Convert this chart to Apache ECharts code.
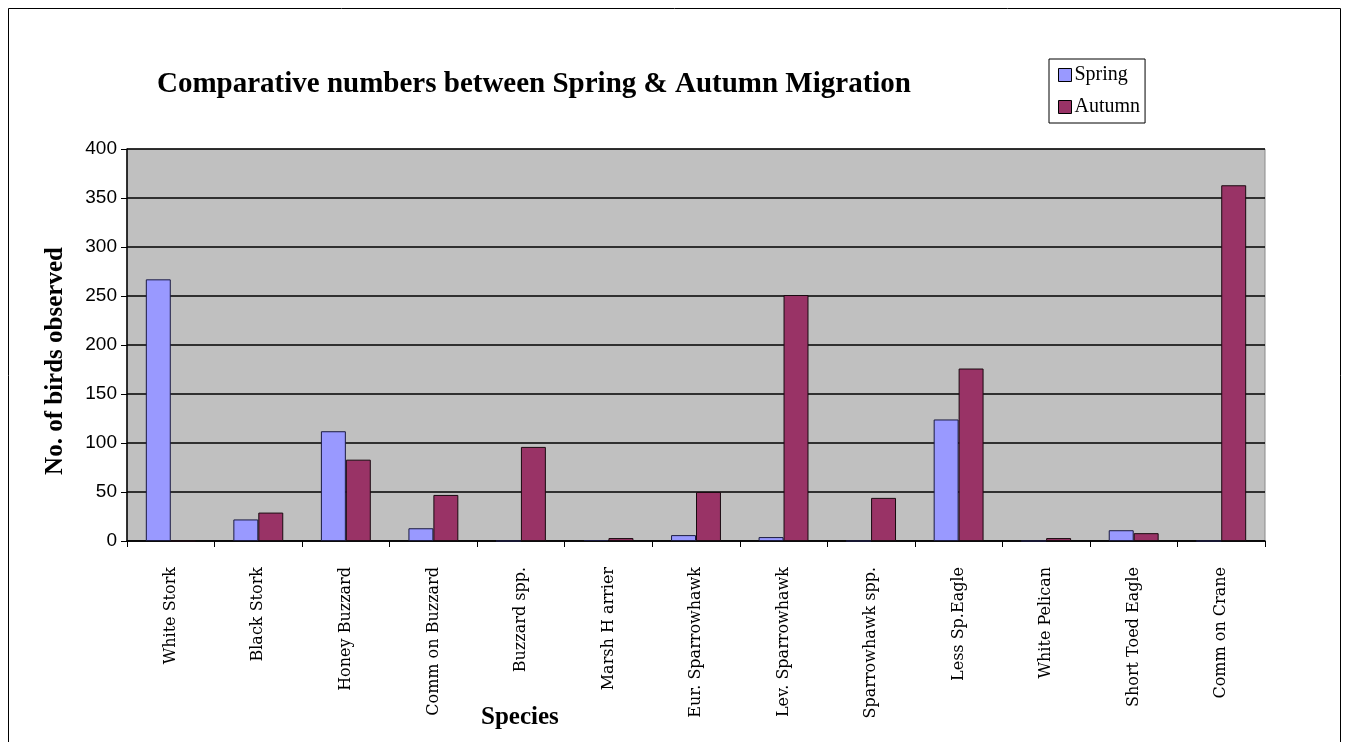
<!doctype html>
<html>
<head>
<meta charset="utf-8">
<title>Spring & Autumn Migration</title>
<script src="https://cdn.jsdelivr.net/npm/echarts@6/dist/echarts.min.js"></script>
<style type="text/css">
	html, body {margin:0; padding:0; background:#fff;}
	#chart {width:1348px; height:742px;}
</style>
</head>
<body>
<div id="chart"></div>
<script type="text/javascript">
// species on the x axis
var species = ['White Stork', 'Black Stork', 'Honey Buzzard', 'Comm on Buzzard', 'Buzzard spp.',
	'Marsh H arrier', 'Eur. Sparrowhawk', 'Lev. Sparrowhawk', 'Sparrowhawk spp.', 'Less Sp.Eagle',
	'White Pelican', 'Short Toed Eagle', 'Comm on Crane'];
// counts
var spring = [267, 22, 112, 13, 0, 1, 6, 4, 0, 124, 0, 11, 0];
var autumn = [0, 29, 83, 47, 96, 3, 50, 251, 44, 176, 3, 8, 363];
var yTicks = [0, 400, 50];   // min, max, step

var chart = echarts.init(document.getElementById('chart'));
var serif = '"Liberation Serif", "DejaVu Serif", serif';

var option = {
	animation: false,
	backgroundColor: '#fff',
	title: [
		{   // chart title
			text: 'Comparative numbers between Spring & Autumn Migration',
			left: 152, top: 65,
			textStyle: {fontFamily: serif, fontWeight: 'bold', fontSize: 29, color: '#000'}
		},
		{   // x axis name, sits left of centre in the original
			text: 'Species',
			left: 476, top: 700,
			textStyle: {fontFamily: serif, fontWeight: 'bold', fontSize: 25, color: '#000'}
		}
	],
	legend: {
		orient: 'vertical',
		left: 1049, top: 59,
		padding: [6, 5, 6, 9],
		itemGap: 12,
		itemWidth: 13, itemHeight: 13,
		backgroundColor: '#fff',
		borderColor: '#000',
		borderWidth: 1,
		textStyle: {fontFamily: serif, fontSize: 20, color: '#000', padding: [0, 0, 0, -2]},
		itemStyle: {borderColor: '#000', borderWidth: 1},
		data: [{name: 'Spring', icon: 'rect'}, {name: 'Autumn', icon: 'rect'}]
	},
	grid: {
		left: 127, right: 83, top: 149, bottom: 201,
		show: true,
		backgroundColor: '#c0c0c0',
		borderColor: '#8a8a8a',
		borderWidth: 1
	},
	xAxis: {
		type: 'category',
		data: species,
		axisLine: {lineStyle: {color: '#000', width: 1.5}},
		axisTick: {show: true, length: 6, lineStyle: {color: '#000'}},
		axisLabel: {
			interval: 0,
			rotate: 90,
			margin: 26,
			fontFamily: '"DejaVu Serif", serif',
			fontSize: 16,
			color: '#000'
		},
		splitLine: {show: false}
	},
	yAxis: {
		type: 'value',
		min: yTicks[0], max: yTicks[1], interval: yTicks[2],
		axisLine: {show: true, lineStyle: {color: '#000', width: 1.5}},
		axisTick: {show: true, length: 6, lineStyle: {color: '#000'}},
		axisLabel: {fontFamily: '"Liberation Sans", Arial, sans-serif', fontSize: 19, color: '#000', margin: 10},
		splitLine: {lineStyle: {color: '#000', width: 1.5}}
	},
	graphic: [
		{   // outer frame
			type: 'rect',
			shape: {x: 8.5, y: 8.5, width: 1332, height: 760},
			style: {fill: 'none', stroke: '#000', lineWidth: 1},
			silent: true
		},
		{   // y axis name
			type: 'text',
			x: 56, y: 361,
			rotation: Math.PI / 2,
			style: {
				text: 'No. of birds observed',
				fontFamily: serif, fontWeight: 'bold', fontSize: 25,
				fill: '#000', align: 'center', verticalAlign: 'middle'
			}
		}
	],
	series: [
		{
			name: 'Spring',
			type: 'bar',
			data: spring,
			barGap: '0%',
			barCategoryGap: '43%',
			itemStyle: {color: '#9999ff', borderColor: '#1a1a40', borderWidth: 1}
		},
		{
			name: 'Autumn',
			type: 'bar',
			data: autumn,
			itemStyle: {color: '#993366', borderColor: '#1a0a10', borderWidth: 1}
		}
	]
};
chart.setOption(option);
</script>
</body>
</html>
